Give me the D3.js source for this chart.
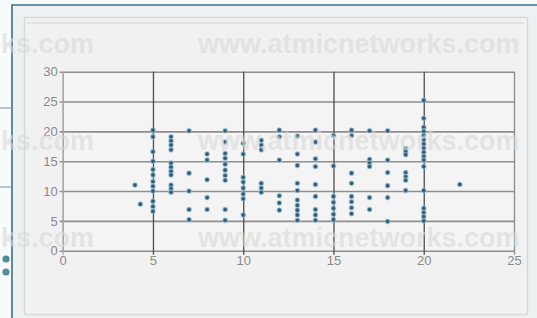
<!DOCTYPE html>
<html>
<head>
<meta charset="utf-8">
<script src="https://cdn.jsdelivr.net/npm/d3@7"></script>
<style>
  html, body { margin: 0; padding: 0; background: #f7fafb; }
  svg { display: block; }
</style>
</head>
<body>
<svg id="chart" width="537" height="318"></svg>
<script>
// ---------------- data ----------------
const xTicks = [0, 5, 10, 15, 20, 25];
const yTicks = [0, 5, 10, 15, 20, 25, 30];
const columnX = [4, 4.3, 5, 6, 7, 8, 9, 10, 11, 12, 13, 14, 15, 16, 17, 18, 19, 20, 22];
const columnY = [
  [11],
  [7.8],
  [20.2, 19.1, 16.6, 15, 13.6, 12.7, 11.6, 10.8, 10, 8.3, 7.4, 6.6],
  [19.1, 18.4, 17.7, 16.9, 14.7, 14, 13.3, 12.7, 11, 10.4, 9.8],
  [20.1, 13, 10, 6.9, 5.2],
  [16.2, 15.2, 11.9, 8.9, 6.9],
  [20.1, 18.2, 16.3, 15.5, 14.5, 13.5, 12.6, 11.8, 6.9, 5.1],
  [18, 16.2, 12.3, 11.5, 10.5, 9.5, 8.7, 6],
  [18.5, 17.7, 16.9, 11.3, 10.5, 9.8],
  [20.2, 19.1, 15.2, 9.2, 8, 6.8],
  [19.2, 16.2, 14.3, 11.3, 10.1, 8.5, 7.6, 6.8, 6, 5.1],
  [20.2, 18.2, 15.4, 14.1, 11.1, 9.1, 6.9, 6, 5.1],
  [19.3, 14.2, 9.1, 8.1, 7.1, 6.1, 5.2],
  [20.2, 19.3, 13, 11.3, 9.1, 8.2, 7.2, 6.2],
  [20.1, 15.3, 14.7, 14.1, 8.9, 6.9],
  [20.1, 15.2, 13.1, 10.9, 8.9, 4.9],
  [17.1, 16.6, 16.1, 13.1, 12.4, 11.8, 10.1],
  [25.2, 22.2, 20.7, 20, 19.3, 18.6, 17.9, 17.2, 16.5, 15.8, 15.2, 14.1, 10.1, 7.1, 6.4, 5.7, 5],
  [11.1]
];
const watermarkLeft = "ks.com";
const watermarkRight = "www.atmicnetworks.com";

// flatten into point records
const points = [];
columnX.forEach((xv, i) => columnY[i].forEach(yv => points.push({x: xv, y: yv})));

// ---------------- drawing ----------------
const svg = d3.select("#chart");

// outer window background + frame
svg.append("rect").attr("x", 0).attr("y", 0).attr("width", 537).attr("height", 318).attr("fill", "#f8fbfc");
svg.append("rect").attr("x", 12).attr("y", 5).attr("width", 525).attr("height", 313).attr("fill", "#eef1f2");
svg.append("line").attr("x1", 12).attr("x2", 537).attr("y1", 5).attr("y2", 5)
   .attr("stroke", "#6f93a4").attr("stroke-width", 2);
svg.append("line").attr("x1", 12).attr("x2", 12).attr("y1", 4).attr("y2", 318)
   .attr("stroke", "#5f8b9d").attr("stroke-width", 2);
[108, 187].forEach(yy => svg.append("line").attr("x1", 0).attr("x2", 11).attr("y1", yy).attr("y2", yy)
   .attr("stroke", "#9fb4bd").attr("stroke-width", 1.5));
[259, 272].forEach(yy => svg.append("circle").attr("cx", 6).attr("cy", yy).attr("r", 3.6)
   .attr("fill", "#4f8e9e"));

// inner panel
svg.append("rect").attr("x", 24.5).attr("y", 17.5).attr("width", 503).attr("height", 297)
   .attr("fill", "#f1f1f1").attr("stroke", "#d6d9da").attr("stroke-width", 1.5);
svg.append("line").attr("x1", 27).attr("x2", 524).attr("y1", 23).attr("y2", 23)
   .attr("stroke", "#e6dfe0").attr("stroke-width", 2);

// scales
const x = d3.scaleLinear().domain([0, 25]).range([62.7, 514]);
const y = d3.scaleLinear().domain([0, 30]).range([250.7, 71.7]);

// plot background
svg.append("rect").attr("x", x(0)).attr("y", y(30)).attr("width", x(25) - x(0)).attr("height", y(0) - y(30))
   .attr("fill", "#f4f4f4");

// y axis with horizontal grid
const yAxis = svg.append("g").attr("transform", `translate(${x(0)},0)`)
  .call(d3.axisLeft(y).tickValues(yTicks).tickSizeInner(-(x(25) - x(0))).tickSizeOuter(0).tickPadding(5));
yAxis.select(".domain").attr("stroke", "#a0a0a0").attr("stroke-width", 1.2);
yAxis.selectAll(".tick line").attr("stroke", "#8e8e8e").attr("stroke-width", 1.6)
  .attr("x1", -3);
yAxis.selectAll(".tick text").attr("fill", "#8a8a8a").attr("font-family", "Liberation Sans, Arial, sans-serif")
  .attr("font-size", 13).attr("x", -5);

// x axis with vertical grid
const xAxis = svg.append("g").attr("transform", `translate(0,${y(0) + 4})`)
  .call(d3.axisBottom(x).tickValues(xTicks).tickSizeInner(-(y(0) + 4 - y(30))).tickSizeOuter(0).tickPadding(1));
xAxis.select(".domain").remove();
xAxis.selectAll(".tick line")
  .attr("stroke", d => (d === 0 ? "#a8a8a8" : d === 25 ? "#8a8a8a" : "#4d4d4d"))
  .attr("stroke-width", d => (d === 0 ? 1.2 : 1.3));
xAxis.selectAll(".tick text").attr("fill", "#8a8a8a").attr("font-family", "Liberation Sans, Arial, sans-serif")
  .attr("font-size", 13);

// points
svg.append("g").selectAll("circle").data(points).join("circle")
  .attr("cx", d => x(d.x)).attr("cy", d => y(d.y)).attr("r", 2.3)
  .attr("fill", "#2f5a76").attr("stroke", "#9cc7dd").attr("stroke-opacity", 0.55).attr("stroke-width", 1.4);

// watermark overlay
svg.append("clipPath").attr("id", "wmclip").append("rect")
  .attr("x", 0).attr("y", 0).attr("width", 523).attr("height", 318);
const wm = svg.append("g").attr("clip-path", "url(#wmclip)")
  .attr("font-family", "Liberation Sans, Arial, sans-serif").attr("font-weight", "bold")
  .attr("font-size", 27).attr("fill", "#d9d9d9").attr("fill-opacity", 0.6);
[53, 150, 247].forEach(by => {
  wm.append("text").attr("x", 94).attr("y", by).attr("text-anchor", "end").text(watermarkLeft);
  wm.append("text").attr("x", 198).attr("y", by).attr("text-anchor", "start").text(watermarkRight);
});
</script>
</body>
</html>
